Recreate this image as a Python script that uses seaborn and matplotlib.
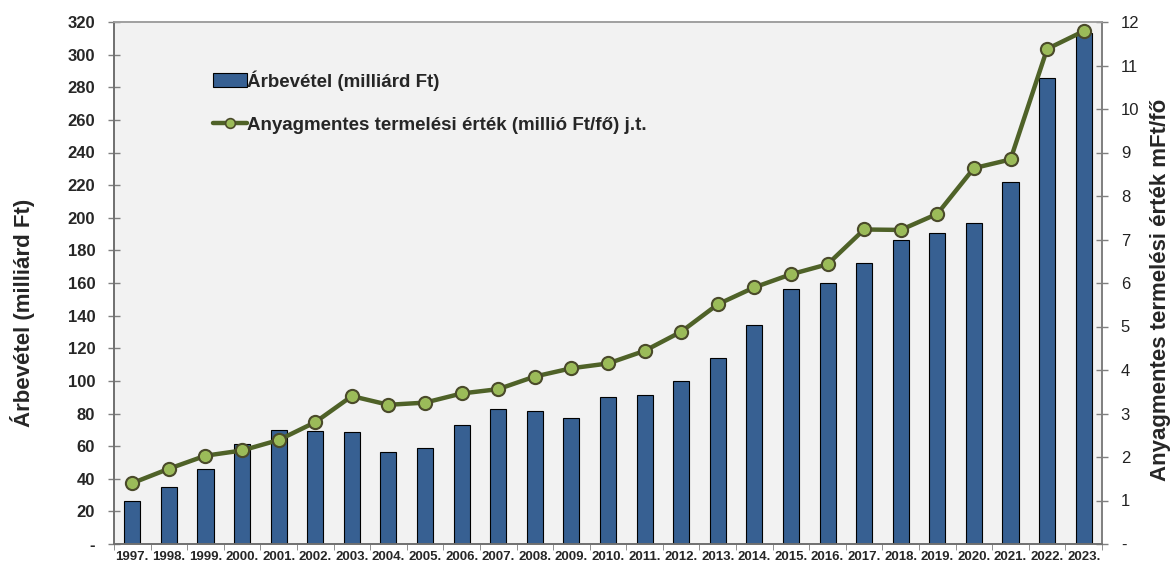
import seaborn as sns
import matplotlib.pyplot as plt
import matplotlib.ticker as mticker
from matplotlib.patches import Patch
from matplotlib.lines import Line2D
import numpy as np
import pandas as pd

# Adatok (leolvasva az ábráról)
evek = [f"{e}." for e in range(1997, 2024)]
arbevetel = [26.5, 35.1, 46.2, 61.1, 69.7, 69.5, 68.9, 56.4, 58.7, 73.0,
             82.8, 81.4, 77.3, 90.1, 91.5, 99.9, 114.2, 134.3, 156.2, 160.0,
             172.1, 186.6, 190.5, 197.0, 221.9, 285.7, 313.0]
termelesi_ertek = [1.40, 1.73, 2.03, 2.15, 2.39, 2.80, 3.40, 3.20, 3.25, 3.46,
                   3.56, 3.85, 4.04, 4.15, 4.44, 4.88, 5.51, 5.90, 6.20, 6.43,
                   7.23, 7.22, 7.59, 8.64, 8.84, 11.38, 11.79]
bal_tickek = list(range(0, 321, 20))
jobb_tickek = list(range(0, 13))

df = pd.DataFrame({"ev": evek, "arbevetel": arbevetel, "termelesi": termelesi_ertek})

sns.set_style("ticks")
plt.rcParams["font.family"] = ["Liberation Sans", "DejaVu Sans"]

bar_szin = "#376092"
vonal_szin = "#4F6228"
pont_szin = "#9BBB59"
pont_el = "#4A4A2A"

fig = plt.figure(figsize=(11.73, 5.66), dpi=100)
ax = fig.add_axes([114 / 1173, 22 / 566, 988 / 1173, 522 / 566])
ax.set_facecolor("#F2F2F2")

sns.barplot(data=df, x="ev", y="arbevetel", ax=ax, color=bar_szin, saturation=1,
            edgecolor="black", linewidth=0.8, width=0.44, zorder=2)

ax2 = ax.twinx()
sns.pointplot(data=df, x="ev", y="termelesi", ax=ax2, color=vonal_szin, errorbar=None,
              markers="o", linewidth=3.2, markersize=9.5, markerfacecolor=pont_szin,
              markeredgecolor=pont_el, markeredgewidth=1.5)

n = len(evek)
ax.set_xlim(-0.5, n - 0.5)
ax.set_ylim(0, 320)
ax2.set_ylim(0, 12)

# Tengelyek, feliratok
ax.set_yticks(bal_tickek)
ax.yaxis.set_major_formatter(mticker.FuncFormatter(lambda v, p: "-" if v == 0 else f"{v:.0f}"))
ax2.set_yticks(jobb_tickek)
ax2.yaxis.set_major_formatter(mticker.FuncFormatter(lambda v, p: "-" if v == 0 else f"{v:.0f}"))

ax.set_xticks(range(n))
ax.set_xticklabels(evek, fontsize=9.5, fontweight="bold")
ax.set_xticks(np.arange(-0.5, n, 1.0), minor=True)
ax.tick_params(axis="x", which="major", length=0, pad=5)
ax.tick_params(axis="x", which="minor", length=4, direction="out", color="#7F7F7F")
ax.tick_params(axis="y", direction="inout", length=9, width=1, color="#7F7F7F", pad=9,
               labelsize=12)
for t in ax.get_yticklabels():
    t.set_fontweight("bold")
ax2.tick_params(axis="y", direction="inout", length=9, width=1, color="#7F7F7F", pad=9,
                labelsize=12, labelcolor="#222222")

ax.set_xlabel("")
ax.set_ylabel("Árbevétel (milliárd Ft)", fontsize=16, fontweight="bold")
ax.yaxis.set_label_coords(-0.08, 0.4425)
ax2.set_xlabel("")
ax2.set_ylabel("Anyagmentes termelési érték mFt/fő", fontsize=16, fontweight="bold")
ax2.yaxis.set_label_coords(1.0486, 0.4866)

for a in (ax, ax2):
    for s in a.spines.values():
        s.set_visible(True)
        s.set_linewidth(1.2)
    a.spines["top"].set_color("#A0A0A0")
    a.spines["left"].set_color("#6F6F6F")
    a.spines["right"].set_color("#7F7F7F")
    a.spines["bottom"].set_color("#6F6F6F")
    a.grid(False)

# Jelmagyarázat
kezelok = [
    Patch(facecolor=bar_szin, edgecolor="black", linewidth=0.8),
    Line2D([], [], color=vonal_szin, linewidth=3.2, marker="o", markersize=7,
           markerfacecolor=pont_szin, markeredgecolor=pont_el, markeredgewidth=1.2),
]
cimkek = ["Árbevétel (milliárd Ft)", "Anyagmentes termelési érték (millió Ft/fő) j.t."]
ax2.legend(kezelok, cimkek, loc="upper left", bbox_to_anchor=(0.1, 0.908),
           frameon=False, prop={"size": 13.5, "weight": "bold"}, borderpad=0,
           borderaxespad=0, handlelength=1.8, handletextpad=0.05, labelspacing=1.4)

plt.savefig("out.png", dpi=100)
